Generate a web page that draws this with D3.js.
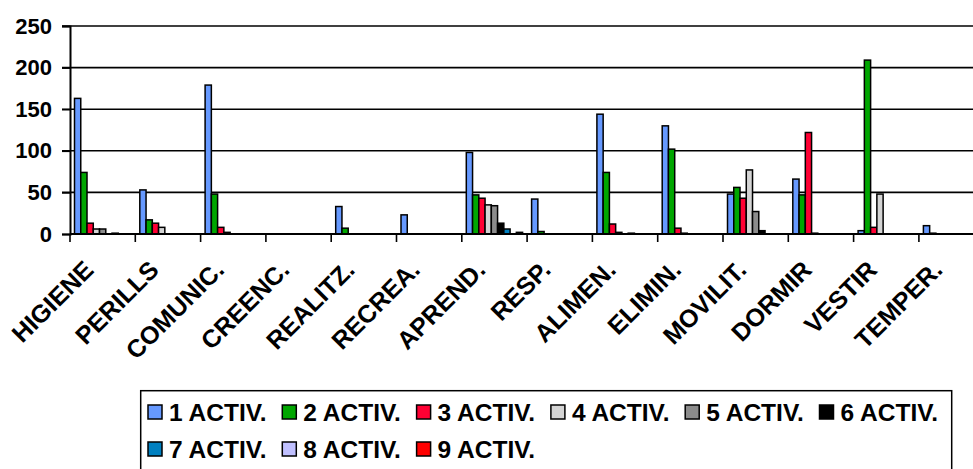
<!DOCTYPE html>
<html>
<head>
<meta charset="utf-8">
<script src="https://cdn.jsdelivr.net/npm/d3@7"></script>
<style>
  body { margin: 0; background: #fff; }
  svg { display: block; font-family: Arial, "Liberation Sans", sans-serif; font-weight: bold; }
</style>
</head>
<body>
<svg width="973" height="469"></svg>
<script>
var categories = ["HIGIENE", "PERILLS", "COMUNIC.", "CREENC.", "REALITZ.", "RECREA.", "APREND.",
                  "RESP.", "ALIMEN.", "ELIMIN.", "MOVILIT.", "DORMIR", "VESTIR", "TEMPER."];
var seriesNames = ["1 ACTIV.", "2 ACTIV.", "3 ACTIV.", "4 ACTIV.", "5 ACTIV.", "6 ACTIV.",
                   "7 ACTIV.", "8 ACTIV.", "9 ACTIV."];
var colors = ["#6699ff", "#00a600", "#ff0033", "#d4d4d4", "#8c8c8c", "#000000", "#0080c0", "#c0c0ff", "#ff0000"];

var activ1 = [163, 53, 179, 0, 33, 23, 98, 42, 144, 130, 48, 66, 4, 10];
var activ2 = [74, 17, 48, 0, 7, 0, 47, 3, 74, 102, 56, 47, 209, 1];
var activ3 = [13, 13, 8, 0, 0, 0, 43, 0, 12, 7, 43, 122, 8, 0];
var activ4 = [6, 8, 2, 0, 0, 0, 35, 0, 2, 1, 77, 1, 48, 0];
var activ5 = [6, 0, 0, 0, 0, 0, 34, 0, 0, 0, 27, 0, 0, 0];
var activ6 = [0, 0, 0, 0, 0, 0, 13, 0, 1, 0, 4, 0, 0, 0];
var activ7 = [1, 0, 0, 0, 0, 0, 6, 0, 0, 0, 0, 0, 0, 0];
var activ8 = [0, 0, 0, 0, 0, 0, 0, 0, 0, 0, 0, 0, 0, 0];
var activ9 = [0, 0, 0, 0, 0, 0, 2, 0, 0, 0, 0, 0, 0, 0];
var yTicks = [0, 50, 100, 150, 200, 250];

var allSeries = [activ1, activ2, activ3, activ4, activ5, activ6, activ7, activ8, activ9];

var svg = d3.select("svg"),
    width = +svg.attr("width");

// plot box (right side runs past the picture edge, like the original)
var plotLeft = 70, plotTop = 26, plotBottom = 234, step = 65.3;

var x0 = d3.scaleBand()
    .domain(categories)
    .range([plotLeft, plotLeft + step * categories.length]);

var x1 = d3.scaleBand()
    .domain(seriesNames)
    .range([4.5, step - 4.5]);

var y = d3.scaleLinear()
    .domain([0, 250])
    .range([plotBottom, plotTop]);

// gridlines
svg.append("g")
  .selectAll("line")
  .data(yTicks.filter(function(d) { return d > 0; }))
  .enter().append("line")
    .attr("x1", plotLeft - 8)
    .attr("x2", width)
    .attr("y1", function(d) { return y(d); })
    .attr("y2", function(d) { return y(d); })
    .attr("stroke", "#000")
    .attr("stroke-width", 1.6);

// y axis
var yAxis = svg.append("g")
    .attr("transform", "translate(" + plotLeft + ",0)")
    .call(d3.axisLeft(y).tickValues(yTicks).tickSize(8).tickPadding(10));
yAxis.select(".domain").attr("stroke", "#000").attr("stroke-width", 2);
yAxis.selectAll(".tick line").attr("stroke-width", 1.6);
yAxis.selectAll("text")
    .attr("font-size", 22)
    .attr("font-weight", "bold")
    .attr("font-family", "Arial, 'Liberation Sans', sans-serif")
    .attr("fill", "#000");

// bars
var rows = [];
categories.forEach(function(cat, i) {
  seriesNames.forEach(function(s, j) {
    if (allSeries[j][i] > 0) rows.push({cat: cat, series: s, idx: j, value: allSeries[j][i]});
  });
});

svg.append("g")
  .selectAll("rect")
  .data(rows)
  .enter().append("rect")
    .attr("x", function(d) { return x0(d.cat) + x1(d.series); })
    .attr("y", function(d) { return y(d.value); })
    .attr("width", x1.bandwidth())
    .attr("height", function(d) { return plotBottom - y(d.value); })
    .attr("fill", function(d) { return colors[d.idx]; })
    .attr("stroke", "#000")
    .attr("stroke-width", 1.5);

// x axis line and ticks between categories
svg.append("line")
    .attr("x1", plotLeft).attr("x2", width)
    .attr("y1", plotBottom).attr("y2", plotBottom)
    .attr("stroke", "#000").attr("stroke-width", 2);

svg.append("g")
  .selectAll("line")
  .data(categories)
  .enter().append("line")
    .attr("x1", function(d) { return x0(d); })
    .attr("x2", function(d) { return x0(d); })
    .attr("y1", plotBottom)
    .attr("y2", plotBottom + 8)
    .attr("stroke", "#000")
    .attr("stroke-width", 1.6);

svg.append("g")
  .selectAll("text")
  .data(categories)
  .enter().append("text")
    .attr("transform", function(d) {
      return "translate(" + (x0(d) + x0.bandwidth() / 2 - 20) + "," + (plotBottom + 25) + ") rotate(-45)";
    })
    .attr("text-anchor", "end")
    .attr("dy", "0.7em")
    .attr("font-size", 25)
    .text(function(d) { return d; });

// legend
var legend = svg.append("g");
legend.append("rect")
    .attr("x", 140.7)
    .attr("y", 390.7)
    .attr("width", 811)
    .attr("height", 120)
    .attr("fill", "#fff")
    .attr("stroke", "#000")
    .attr("stroke-width", 1.5);

var item = legend.selectAll(".item")
  .data(seriesNames)
  .enter().append("g")
    .attr("class", "item")
    .attr("transform", function(d, i) {
      return "translate(" + (148 + 134.3 * (i % 6)) + "," + (405 + 37 * Math.floor(i / 6)) + ")";
    });

item.append("rect")
    .attr("width", 14)
    .attr("height", 14)
    .attr("fill", function(d, i) { return colors[i]; })
    .attr("stroke", "#000")
    .attr("stroke-width", 1.5);

item.append("text")
    .attr("x", 21)
    .attr("y", 7)
    .attr("dy", "0.36em")
    .attr("font-size", 24.5)
    .text(function(d) { return d; });
</script>
</body>
</html>
